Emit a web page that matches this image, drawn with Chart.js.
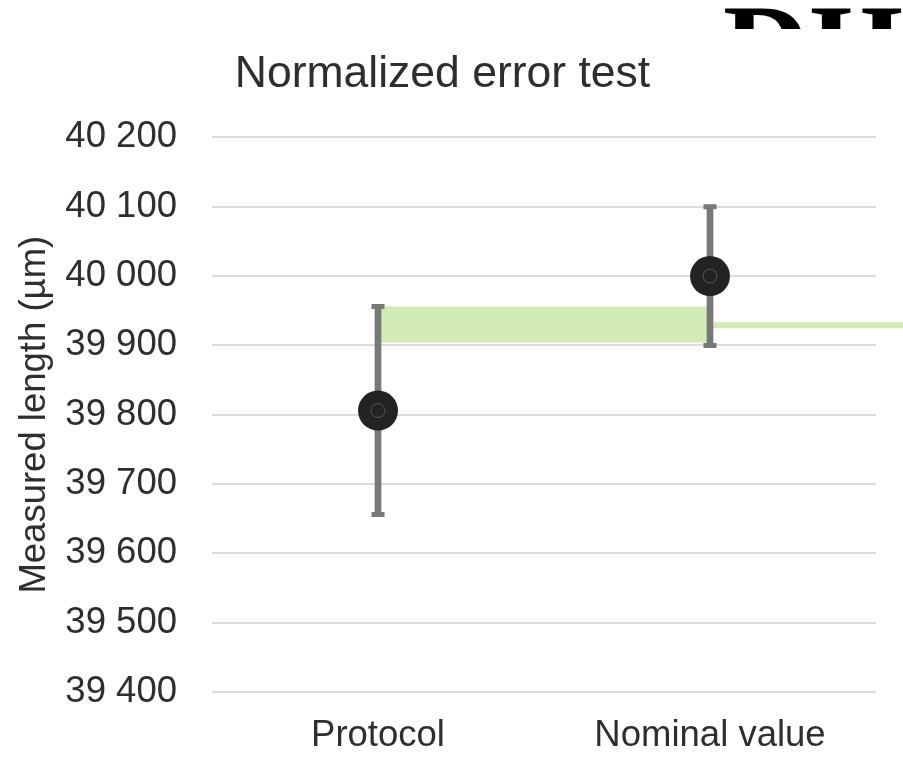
<!DOCTYPE html>
<html>
<head>
<meta charset="utf-8">
<script src="https://cdn.jsdelivr.net/npm/chart.js@4/dist/chart.umd.min.js"></script>
<style>
  html, body { margin: 0; padding: 0; background: #ffffff; }
  #wrap { position: relative; width: 903px; height: 757px; overflow: hidden; }
  #cv { position: absolute; left: 0; top: 0; }
  #clipText { position: absolute; left: 0; top: 0; width: 903px; height: 29px; overflow: hidden; pointer-events: none; }
  #clipText span { position: absolute; left: 723px; top: -12px; font-family: 'Liberation Serif', 'Times New Roman', serif; font-weight: bold; font-size: 120px; line-height: 120px; color: #000; white-space: nowrap; }
</style>
</head>
<body>
<div id="wrap">
  <canvas id="cv" width="903" height="757"></canvas>
  <div id="clipText"><span>DH</span></div>
</div>
<script>
// ---- data ----
const categories = ['Protocol', 'Nominal value'];
const measuredValues = [39806, 40000];
const errorLow = [39656, 39900];
const errorHigh = [39956, 40100];
const bandLow = [39904, 39904];
const bandHigh = [39956, 39956];
const refLineValue = 39929;
const refLineX = [1, 1.6];
const yMin = 39400, yMax = 40200, yStep = 100;

const GREEN = '#d2ebb6';
const GREY = '#787878';
const DARK = '#232323';
const TEXT = '#2e2e2e';
const FONT = "'Liberation Sans', Arial, Helvetica, sans-serif";

function fmt(v) { return String(v).replace(/\B(?=(\d{3})+(?!\d))/g, ' '); }

const idx = categories.map((_, i) => i);

const datasets = [
  { // inner ring of markers
    type: 'scatter', order: 0,
    data: idx.map(i => ({ x: i, y: measuredValues[i] })),
    pointRadius: 7, pointHoverRadius: 7,
    backgroundColor: 'rgba(0,0,0,0)', borderColor: '#555555', borderWidth: 1
  },
  { // markers
    type: 'scatter', order: 1,
    data: idx.map(i => ({ x: i, y: measuredValues[i] })),
    pointRadius: 20, pointHoverRadius: 20,
    backgroundColor: DARK, borderWidth: 0
  },
  { // error caps
    type: 'scatter', order: 2,
    data: idx.map(i => ({ x: i, y: errorLow[i] })).concat(idx.map(i => ({ x: i, y: errorHigh[i] }))),
    pointStyle: 'line', pointRadius: 6.5, pointHoverRadius: 6.5,
    borderColor: GREY, borderWidth: 5
  },
  { // error stems
    type: 'bar', order: 3,
    data: idx.map(i => ({ x: i, y: [errorLow[i], errorHigh[i]] })),
    barThickness: 6, backgroundColor: GREY, borderWidth: 0, borderSkipped: false
  },
  { // reference line
    type: 'line', order: 4, clip: false,
    data: refLineX.map(x => ({ x: x, y: refLineValue })),
    borderColor: GREEN, borderWidth: 6, borderCapStyle: 'butt', pointRadius: 0, fill: false
  },
  { // band lower edge
    type: 'line', order: 5,
    data: idx.map(i => ({ x: i, y: bandLow[i] })),
    borderWidth: 0, pointRadius: 0, fill: false, borderColor: 'rgba(0,0,0,0)'
  },
  { // band upper edge, filled to lower
    type: 'line', order: 6,
    data: idx.map(i => ({ x: i, y: bandHigh[i] })),
    borderWidth: 0, pointRadius: 0, borderColor: 'rgba(0,0,0,0)',
    fill: { target: 5 }, backgroundColor: GREEN
  }
];

new Chart(document.getElementById('cv'), {
  type: 'scatter',
  data: { datasets: datasets },
  options: {
    responsive: false,
    animation: false,
    events: [],
    layout: { padding: { left: 9, right: 27, top: 0, bottom: 0 } },
    plugins: {
      legend: { display: false },
      tooltip: { enabled: false },
      title: {
        display: true,
        text: 'Normalized error test',
        color: TEXT,
        font: { family: FONT, size: 44.5, weight: 'normal', lineHeight: 1.2 },
        padding: { top: 48, bottom: 36 }
      }
    },
    scales: {
      x: {
        type: 'linear',
        offset: false,
        min: -0.5, max: 1.5,
        afterBuildTicks: (s) => { s.ticks = idx.map(i => ({ value: i })); },
        afterFit: (s) => { s.height = 65; },
        grid: { display: false, drawTicks: false, offset: false },
        border: { display: false },
        ticks: {
          color: TEXT,
          font: { family: FONT, size: 36.5, lineHeight: 1.2 },
          padding: 22,
          maxRotation: 0, autoSkip: false,
          callback: (v) => categories[v] !== undefined ? categories[v] : ''
        }
      },
      y: {
        type: 'linear',
        min: yMin, max: yMax,
        afterFit: (s) => { s.width = 203; },
        grid: { color: '#dcdcdc', lineWidth: 2, drawTicks: false },
        border: { display: false },
        ticks: {
          stepSize: yStep,
          color: TEXT,
          font: { family: FONT, size: 36.5, lineHeight: 1.2 },
          padding: 35,
          callback: (v) => fmt(v)
        },
        title: {
          display: true,
          text: 'Measured length (µm)',
          color: TEXT,
          font: { family: FONT, size: 36.5, lineHeight: 1.2 },
          padding: { top: 4, bottom: 4 }
        }
      }
    }
  }
});
</script>
</body>
</html>
